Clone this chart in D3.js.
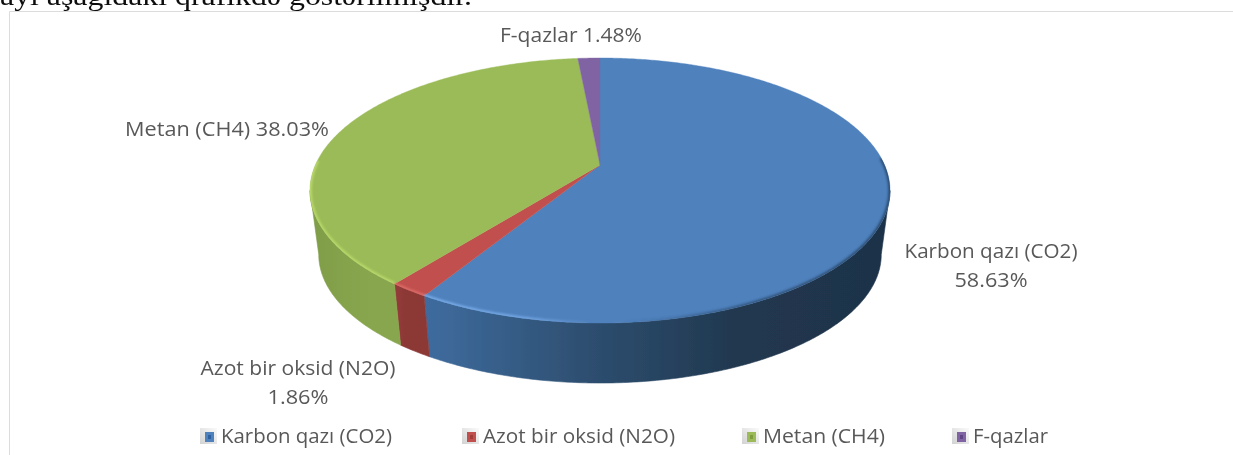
<!DOCTYPE html>
<html>
<head>
<meta charset="utf-8">
<script src="https://cdn.jsdelivr.net/npm/d3@7"></script>
<style>
  html, body { margin: 0; padding: 0; background: #fff; overflow: hidden; }
  text { font-family: "Open Sans", sans-serif; fill: #595959; }
</style>
</head>
<body>
<div id="root"></div>
<script>
const categories = ['Karbon qazı (CO2)', 'Azot bir oksid (N2O)', 'Metan (CH4)', 'F-qazlar'];
const values = [58.63, 1.86, 38.03, 1.48];
const topColors = ['#4f81bd', '#c0504d', '#9bbb59', '#8064a2'];
const rimColors = ['#78ace8', '#dd6a66', '#b9d96a', '#9a7cc0'];
const legendCores = ['#2f5f9f', '#a03c3a', '#7f9c3f', '#5f4585'];
// side shading, left to right
const sideColors = [
  ['#3f6c9f', '#2e5072', '#213850', '#1e3249'],
  ['#943c3a', '#8c3836', '#8c3836', '#8c3836'],
  ['#7f9c48', '#84a24b', '#88a64e', '#88a64e'],
  ['#6a5288', '#6a5288', '#6a5288', '#6a5288'],
];
const labelLines = [
  ['Karbon qazı (CO2)', '58.63%'],
  ['Azot bir oksid (N2O)', '1.86%'],
  ['Metan (CH4) 38.03%'],
  ['F-qazlar 1.48%'],
];
const labelWidths = [[173, 73], [195, 61], [204], [142]];
const labelPos = [[991, 258], [298, 375], [227, 136], [571, 42]];
const legendX = [200, 462, 742, 952];
const legendWidths = [171, 192, 122, 75];
const heading = 'ayı aşağıdakı qrafikdə göstərilmişdir.';

const width = 1233;
const height = 455;
const cx = 600;
const persp = 0.1925;
const topDisc = {cy: 165, rx: 284.6, ry: 127.6};
const botDisc = {cy: 229.7, rx: 276, ry: 123.8};

function rim(a, disc) {
  const u = Math.sin(a);
  const v = -Math.cos(a);
  const d = 1 - persp * v;
  return [cx + disc.rx * u / d, disc.cy + disc.ry * v / d];
}
function sample(a0, a1) {
  const n = Math.max(2, Math.ceil((a1 - a0) / 0.01));
  return d3.range(n + 1).map(i => a0 + (a1 - a0) * i / n);
}
const rad = deg => deg * Math.PI / 180;

const svg = d3.select('#root')
  .append('svg')
  .attr('width', width)
  .attr('height', height)
  .style('display', 'block');

const defs = svg.append('defs');
defs.append('filter').attr('id', 'soft')
  .append('feGaussianBlur').attr('stdDeviation', 0.5);
defs.append('filter').attr('id', 'softer')
  .attr('filterUnits', 'userSpaceOnUse')
  .attr('x', 0).attr('y', 0).attr('width', width).attr('height', height)
  .append('feGaussianBlur').attr('stdDeviation', 1.2);
defs.append('clipPath').attr('id', 'topface')
  .append('path')
  .attr('d', d3.line()(sample(0, 2 * Math.PI).map(a => rim(a, topDisc))) + 'Z');
const markerGrad = defs.append('linearGradient')
  .attr('id', 'marker').attr('x1', 1).attr('x2', 0).attr('y1', 0).attr('y2', 1);
markerGrad.append('stop').attr('offset', 0).attr('stop-color', '#fafafa');
markerGrad.append('stop').attr('offset', 1).attr('stop-color', '#d2d2d2');

// blue rim goes from a light edge on the left to a dark one on the right
const blueRim = defs.append('linearGradient')
  .attr('id', 'bluerim')
  .attr('gradientUnits', 'userSpaceOnUse')
  .attr('x1', 430).attr('x2', 890).attr('y1', 0).attr('y2', 0);
[[0, '#78ace8', 1], [0.22, '#78ace8', 0.8], [0.35, '#78ace8', 0], [0.42, '#2c4c70', 0], [0.7, '#2c4c70', 0.8], [1, '#2c4c70', 1]]
  .forEach(s => {
    blueRim.append('stop').attr('offset', s[0]).attr('stop-color', s[1]).attr('stop-opacity', s[2]);
  });

// text of the page above the chart, cut by the picture edge
svg.append('text')
  .attr('x', 0)
  .attr('y', 5)
  .attr('textLength', 472)
  .attr('lengthAdjust', 'spacingAndGlyphs')
  .attr('filter', 'url(#soft)')
  .style('font-family', '"Liberation Serif", serif')
  .style('font-size', '28px')
  .style('fill', '#111')
  .text(heading);

// chart frame
svg.append('path')
  .attr('d', d3.line()([[9.5, height], [9.5, 11.5], [width, 11.5]]))
  .attr('fill', 'none')
  .attr('stroke', '#dcdcdc');

const arcs = d3.pie().sort(null)(values);
const line = d3.line();
const limit = Math.acos(-persp);
const chart = svg.append('g').attr('filter', 'url(#soft)');

// side wall of the disc, only the part that faces the viewer
arcs.forEach((d, i) => {
  const a0 = Math.max(d.startAngle, limit);
  const a1 = Math.min(d.endAngle, 2 * Math.PI - limit);
  if (a1 <= a0) return;
  const angles = sample(a0, a1);
  const pts = angles.map(a => rim(a, topDisc))
    .concat(angles.slice().reverse().map(a => rim(a, botDisc)));
  const xs = d3.extent(pts, p => p[0]);
  const grad = defs.append('linearGradient')
    .attr('id', 'side' + i)
    .attr('gradientUnits', 'userSpaceOnUse')
    .attr('x1', xs[0]).attr('x2', xs[1]).attr('y1', 0).attr('y2', 0);
  sideColors[i].forEach((c, j, all) => {
    grad.append('stop').attr('offset', j / (all.length - 1)).attr('stop-color', c);
  });
  chart.append('path')
    .attr('d', line(pts) + 'Z')
    .attr('fill', 'url(#side' + i + ')')
    .attr('stroke', 'url(#side' + i + ')')
    .attr('stroke-width', 0.6);
});

// top face
arcs.forEach((d, i) => {
  const pts = [[cx, topDisc.cy]]
    .concat(sample(d.startAngle, d.endAngle).map(a => rim(a, topDisc)));
  chart.append('path')
    .attr('d', line(pts) + 'Z')
    .attr('fill', topColors[i])
    .attr('stroke', topColors[i])
    .attr('stroke-width', 0.4);
});

// bevel along the front edge of the top face
const bevel = svg.append('g')
  .attr('clip-path', 'url(#topface)')
  .append('g')
  .attr('filter', 'url(#softer)');
arcs.forEach((d, i) => {
  const a0 = i === 0 ? limit - 0.25 : d.startAngle;
  const a1 = Math.min(d.endAngle, rad(272));
  if (a1 <= a0) return;
  bevel.append('path')
    .attr('d', line(sample(a0, a1).map(a => rim(a, topDisc))))
    .attr('fill', 'none')
    .attr('stroke', i === 0 ? 'url(#bluerim)' : rimColors[i])
    .attr('stroke-width', 3.6);
});

// data labels
const labels = svg.append('g').attr('filter', 'url(#soft)');
labelLines.forEach((rows, i) => {
  rows.forEach((row, j) => {
    labels.append('text')
      .attr('x', labelPos[i][0])
      .attr('y', labelPos[i][1] + j * 28.5)
      .attr('text-anchor', 'middle')
      .attr('textLength', labelWidths[i][j])
      .attr('lengthAdjust', 'spacingAndGlyphs')
      .style('font-size', '20px')
      .text(row);
  });
});

// legend
const legend = svg.append('g').attr('filter', 'url(#soft)');
categories.forEach((name, i) => {
  const g = legend.append('g').attr('transform', 'translate(' + legendX[i] + ',436)');
  g.append('rect').attr('x', 0).attr('y', -8).attr('width', 17).attr('height', 16).attr('fill', 'url(#marker)');
  g.append('rect').attr('x', 5).attr('y', -4).attr('width', 9).attr('height', 10).attr('fill', topColors[i]);
  g.append('rect').attr('x', 8).attr('y', -1).attr('width', 3).attr('height', 4).attr('fill', legendCores[i]);
  g.append('text')
    .attr('x', 21)
    .attr('y', 7)
    .attr('textLength', legendWidths[i])
    .attr('lengthAdjust', 'spacingAndGlyphs')
    .style('font-size', '20px')
    .text(name);
});
</script>
</body>
</html>
